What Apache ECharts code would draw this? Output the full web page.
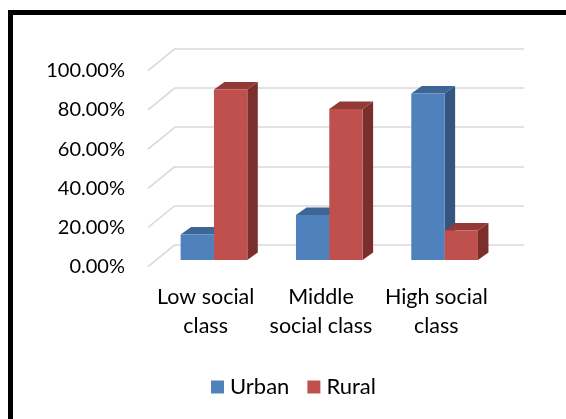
<!DOCTYPE html>
<html>
<head>
<meta charset="utf-8">
<script src="https://cdn.jsdelivr.net/npm/echarts@6/dist/echarts.min.js"></script>
<style>
  html, body { margin: 0; padding: 0; background: #fff; }
  #chart { width: 566px; height: 419px; }
</style>
</head>
<body>
<div id="chart"></div>
<script>
// Share of respondents by social class and residence
const categories = ['Low social\nclass', 'Middle\nsocial class', 'High social\nclass'];
const seriesNames = ['Urban', 'Rural'];
const urban = [13, 23, 85];
const rural = [87, 77, 15];
const yTicks = [0, 20, 40, 60, 80, 100];

// 3D look: offset of the back wall from the front plane, position of the bar
// faces inside the floor and the depth of each bar (pixels)
const WALL = { dx: 27, dy: 22 };
const BAR_SHIFT = { dx: 8.3, dy: 6.7 };
const BAR_DEPTH = { dx: 10.5, dy: 7.5 };
const BAR_RATIO = 0.289;

const FRONT = { left: 148, right: 72, top: 70.7, bottom: 152.3 };

const palette = {
  Urban: { front: '#4F81BD', top: '#3D6595', side: '#34557E' },
  Rural: { front: '#C0504D', top: '#933A38', side: '#7B2F2D' }
};

const FONT = 'Lato';
const GRID_COLOR = '#D9D9D9';

const chart = echarts.init(document.getElementById('chart'), null, { renderer: 'canvas' });

function shiftGrid(g, dx, dy) {
  return { left: g.left + dx, right: g.right - dx, top: g.top - dy, bottom: g.bottom + dy };
}

const backGrid = Object.assign(shiftGrid(FRONT, WALL.dx, WALL.dy), { right: 42 });
const barGrid = shiftGrid(FRONT, BAR_SHIFT.dx, BAR_SHIFT.dy);

function valueAxis(gridIndex, showLabels, showSplit) {
  return {
    type: 'value', gridIndex, min: 0, max: 100, interval: 20,
    axisLine: { show: false }, axisTick: { show: false },
    splitLine: { show: showSplit, lineStyle: { color: GRID_COLOR, width: 1.6 } },
    axisLabel: {
      show: showLabels, margin: 23, color: '#000', fontFamily: FONT, fontSize: 20,
      formatter: v => v.toFixed(2) + '%'
    }
  };
}

function categoryAxis(gridIndex, showLabels) {
  return {
    type: 'category', gridIndex, data: categories,
    axisLine: { show: false }, axisTick: { show: false }, splitLine: { show: false },
    axisLabel: {
      show: showLabels, margin: 16, color: '#000', fontFamily: FONT, fontSize: 21.5,
      lineHeight: 29, interval: 0, align: 'center'
    }
  };
}

function barRenderer(seriesPos, colors) {
  return function (params, api) {
    const cat = api.value(0);
    const val = api.value(1);
    const topPt = api.coord([cat, val]);
    const basePt = api.coord([cat, 0]);
    const w = api.size([1, 0])[0] * BAR_RATIO;
    const x0 = seriesPos === 0 ? topPt[0] - w : topPt[0];
    const x1 = x0 + w;
    const yt = topPt[1];
    const yb = basePt[1];
    const dx = BAR_DEPTH.dx, dy = BAR_DEPTH.dy;
    return {
      type: 'group',
      children: [
        { type: 'polygon', shape: { points: [[x1, yt], [x1 + dx, yt - dy], [x1 + dx, yb - dy], [x1, yb]] },
          style: { fill: colors.side } },
        { type: 'polygon', shape: { points: [[x0, yt], [x1, yt], [x1 + dx, yt - dy], [x0 + dx, yt - dy]] },
          style: { fill: colors.top } },
        { type: 'rect', shape: { x: x0, y: yt, width: w, height: yb - yt },
          style: { fill: colors.front } }
      ]
    };
  };
}

function sideWallRenderer(params, api) {
  const y = api.coord([0, api.value(0)])[1];
  const x = params.coordSys.x;
  return {
    type: 'line',
    shape: { x1: x, y1: y, x2: x + WALL.dx, y2: y - WALL.dy },
    style: { stroke: GRID_COLOR, lineWidth: 1.6 }
  };
}

const option = {
  backgroundColor: '#fff',
  animation: false,
  grid: [
    Object.assign({ containLabel: false }, backGrid),
    Object.assign({ containLabel: false }, FRONT),
    Object.assign({ containLabel: false }, barGrid)
  ],
  xAxis: [
    Object.assign(categoryAxis(0, false), { show: false }),
    categoryAxis(1, true),
    Object.assign(categoryAxis(2, false), { show: false })
  ],
  yAxis: [
    valueAxis(0, false, true),
    valueAxis(1, true, false),
    Object.assign(valueAxis(2, false, false), { show: false })
  ],
  legend: {
    data: seriesNames,
    left: 211, top: 376, padding: 0,
    icon: 'rect', itemWidth: 13, itemHeight: 13, itemGap: 18,
    textStyle: { fontFamily: FONT, fontSize: 22, color: '#000', padding: [0, 0, 0, 1] },
    selectedMode: false
  },
  graphic: [
    { type: 'rect', shape: { x: 8, y: 10, width: 558, height: 5 }, style: { fill: '#000' }, z: 100 },
    { type: 'rect', shape: { x: 8, y: 10, width: 5, height: 409 }, style: { fill: '#000' }, z: 100 }
  ],
  series: [
    {
      name: 'wall', type: 'custom', xAxisIndex: 1, yAxisIndex: 1,
      renderItem: sideWallRenderer, data: yTicks.map(v => [v]), silent: true, z: 1
    },
    {
      name: seriesNames[0], type: 'custom', xAxisIndex: 2, yAxisIndex: 2,
      itemStyle: { color: palette.Urban.front },
      renderItem: barRenderer(0, palette.Urban),
      data: urban.map((v, i) => [i, v]), z: 2
    },
    {
      name: seriesNames[1], type: 'custom', xAxisIndex: 2, yAxisIndex: 2,
      itemStyle: { color: palette.Rural.front },
      renderItem: barRenderer(1, palette.Rural),
      data: rural.map((v, i) => [i, v]), z: 3
    }
  ]
};

chart.setOption(option);
</script>
</body>
</html>
